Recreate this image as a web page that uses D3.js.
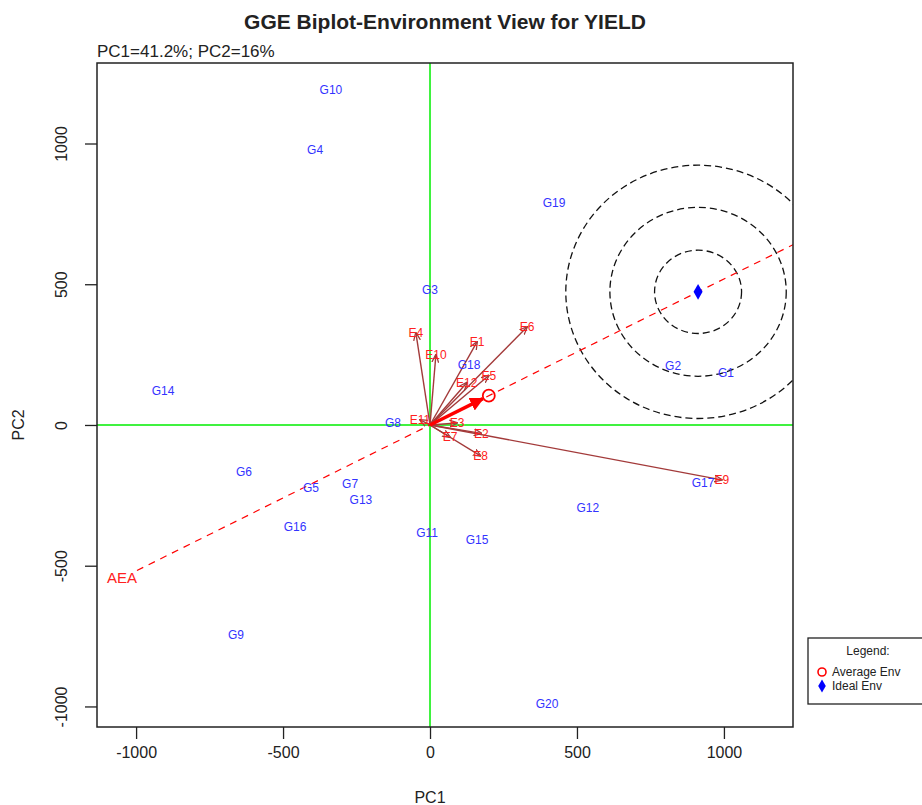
<!DOCTYPE html>
<html><head><meta charset="utf-8">
<script src="https://cdn.jsdelivr.net/npm/d3@7"></script>
<style>body{margin:0;background:#fff}svg{display:block;font-family:"Liberation Sans",Arial,sans-serif}</style>
</head><body><svg id="c" width="922" height="805"></svg>
<script>
const title = "GGE Biplot-Environment View for YIELD";
const subtitle = "PC1=41.2%; PC2=16%";
const xTicks = [-1000, -500, 0, 500, 1000];
const yTicks = [-1000, -500, 0, 500, 1000];
const xDomain = [-1133, 1235];
const yDomain = [-1073, 1286];
const genotypes = ["G1","G2","G3","G4","G5","G6","G7","G8","G9","G10","G11","G12","G13","G14","G15","G16","G17","G18","G19","G20"];
const genPC1 = [1007, 827, 0, -391, -405, -633, -272, -126, -660, -337, -10, 537, -235, -908, 160, -459, 929, 133, 422, 398];
const genPC2 = [185, 210, 480, 979, -224, -167, -210, 7, -747, 1192, -384, -295, -267, 121, -409, -363, -206, 214, 790, -989];
const envs = ["E1","E2","E3","E4","E5","E6","E7","E8","E9","E10","E11","E12"];
const envPC1 = [160, 175, 92, -48, 200, 330, 68, 172, 993, 20, -34, 125];
const envPC2 = [295, -30, 7, 327, 176, 348, -43, -110, -195, 249, 18, 150];
const avgEnv = [200, 104];
const idealEnv = [912, 473];
const aeaStart = [-997, -517];
const aeaLabel = [-1048, -544];
const circleRadii = [148, 300, 450];
const legendItems = ["Average Env", "Ideal Env"];

const svg = d3.select("#c");
const L = 97, R = 793, T = 63, B = 727;
const x = d3.scaleLinear().domain(xDomain).range([L, R]);
const y = d3.scaleLinear().domain(yDomain).range([B, T]);
const fmt = d => String(d);

svg.append("defs").html(`
<clipPath id="clip"><rect x="${L}" y="${T}" width="${R-L}" height="${B-T}"/></clipPath>
<marker id="ah" viewBox="0 0 10 10" refX="9" refY="5" markerWidth="6" markerHeight="6" orient="auto"><path d="M0,1 L10,5 L0,9" fill="none" stroke="#a33a3a" stroke-width="1.5"/></marker>
<marker id="ahr" viewBox="0 0 10 10" refX="9" refY="5" markerWidth="4" markerHeight="4" orient="auto"><path d="M0,0 L10,5 L0,10 z" fill="red"/></marker>`);

const g = svg.append("g").attr("clip-path", "url(#clip)");

// green axes through origin
g.append("line").attr("x1", x(0)).attr("x2", x(0)).attr("y1", T).attr("y2", B).attr("stroke", "#00ee00").attr("stroke-width", 1.5);
g.append("line").attr("x1", L).attr("x2", R).attr("y1", y(0)).attr("y2", y(0)).attr("stroke", "#00ee00").attr("stroke-width", 1.5);

// concentric circles
g.selectAll("ellipse.c").data(circleRadii).join("ellipse")
  .attr("cx", x(idealEnv[0])).attr("cy", y(idealEnv[1]))
  .attr("rx", r => x(r) - x(0)).attr("ry", r => y(0) - y(r))
  .attr("fill", "none").attr("stroke", "#111").attr("stroke-width", 1.3).attr("stroke-dasharray", "7,4");

// AEA line
const slope = idealEnv[1] / idealEnv[0];
const xEnd = xDomain[1];
g.append("line").attr("x1", x(aeaStart[0])).attr("y1", y(aeaStart[1]))
  .attr("x2", x(xEnd)).attr("y2", y(xEnd * slope))
  .attr("stroke", "red").attr("stroke-width", 1.2).attr("stroke-dasharray", "7,6");

// environment vectors
const envData = envs.map((e, i) => ({ name: e, px: envPC1[i], py: envPC2[i] }));
g.selectAll("line.env").data(envData).join("line")
  .attr("x1", x(0)).attr("y1", y(0)).attr("x2", d => x(d.px)).attr("y2", d => y(d.py))
  .attr("stroke", "#a33a3a").attr("stroke-width", 1.4).attr("marker-end", "url(#ah)");

// average env arrow
g.append("line").attr("x1", x(0)).attr("y1", y(0)).attr("x2", x(avgEnv[0] * 0.9)).attr("y2", y(avgEnv[1] * 0.9))
  .attr("stroke", "red").attr("stroke-width", 3.5).attr("marker-end", "url(#ahr)");
g.append("circle").attr("cx", x(avgEnv[0])).attr("cy", y(avgEnv[1])).attr("r", 6)
  .attr("fill", "none").attr("stroke", "red").attr("stroke-width", 1.8);

// genotype labels
const genData = genotypes.map((n, i) => ({ name: n, px: genPC1[i], py: genPC2[i] }));
g.selectAll("text.gen").data(genData).join("text")
  .attr("x", d => x(d.px)).attr("y", d => y(d.py)).attr("dy", "0.35em")
  .attr("text-anchor", "middle").attr("fill", "#3333ff").attr("font-size", 12).text(d => d.name);

// env labels
g.selectAll("text.env").data(envData).join("text")
  .attr("x", d => x(d.px)).attr("y", d => y(d.py)).attr("dy", "0.35em")
  .attr("text-anchor", "middle").attr("fill", "#ff2020").attr("font-size", 12).text(d => d.name);

// AEA label
g.append("text").attr("x", x(aeaLabel[0])).attr("y", y(aeaLabel[1])).attr("dy", "0.35em")
  .attr("text-anchor", "middle").attr("fill", "#ff2020").attr("font-size", 15).text("AEA");

// ideal env point
g.append("path").attr("d", d3.symbol(d3.symbolDiamond, 70)()).attr("transform", `translate(${x(idealEnv[0])},${y(idealEnv[1])})`).attr("fill", "blue");

// frame
svg.append("rect").attr("x", L).attr("y", T).attr("width", R - L).attr("height", B - T)
  .attr("fill", "none").attr("stroke", "#222").attr("stroke-width", 1.5);

// axes
const xAxis = d3.axisBottom(x).tickValues(xTicks).tickSize(12).tickPadding(8).tickFormat(fmt);
const ax = svg.append("g").attr("transform", `translate(0,${B})`).call(xAxis);
ax.select(".domain").remove();
ax.selectAll("line").attr("stroke", "#222").attr("stroke-width", 1.3);
ax.selectAll("text").attr("font-size", 16).attr("fill", "#222").attr("font-family", "Liberation Sans, Arial, sans-serif");

const yAxis = d3.axisLeft(y).tickValues(yTicks).tickSize(12).tickFormat(fmt);
const ay = svg.append("g").attr("transform", `translate(${L},0)`).call(yAxis);
ay.select(".domain").remove();
ay.selectAll("line").attr("stroke", "#222").attr("stroke-width", 1.3);
ay.selectAll("text").attr("font-size", 16).attr("fill", "#222").attr("font-family", "Liberation Sans, Arial, sans-serif")
  .attr("text-anchor", "middle").attr("dy", 0).attr("x", 0)
  .attr("transform", "translate(-30,0) rotate(-90)");

// titles
svg.append("text").attr("x", (L + R) / 2).attr("y", 29).attr("text-anchor", "middle")
  .attr("font-size", 21).attr("font-weight", "bold").attr("fill", "#222").text(title);
svg.append("text").attr("x", L).attr("y", 57).attr("font-size", 17).attr("fill", "#222").text(subtitle);
svg.append("text").attr("x", x(0)).attr("y", 803).attr("text-anchor", "middle").attr("font-size", 16).attr("fill", "#222").text("PC1");
svg.append("text").attr("transform", `translate(24,${y(0)}) rotate(-90)`).attr("text-anchor", "middle")
  .attr("font-size", 16).attr("fill", "#222").text("PC2");

// legend
const lg = svg.append("g");
lg.append("rect").attr("x", 808).attr("y", 638).attr("width", 130).attr("height", 66)
  .attr("fill", "#fff").attr("stroke", "#222").attr("stroke-width", 1.3);
lg.append("text").attr("x", 868).attr("y", 655).attr("text-anchor", "middle").attr("font-size", 12).attr("fill", "#222").text("Legend:");
lg.append("circle").attr("cx", 822).attr("cy", 672).attr("r", 4).attr("fill", "none").attr("stroke", "red").attr("stroke-width", 1.6);
lg.append("path").attr("d", d3.symbol(d3.symbolDiamond, 50)()).attr("transform", "translate(822,686)").attr("fill", "blue");
lg.selectAll("text.li").data(legendItems).join("text")
  .attr("x", 832).attr("y", (d, i) => 676 + i * 14).attr("font-size", 12).attr("fill", "#222").text(d => d);
</script></body></html>
